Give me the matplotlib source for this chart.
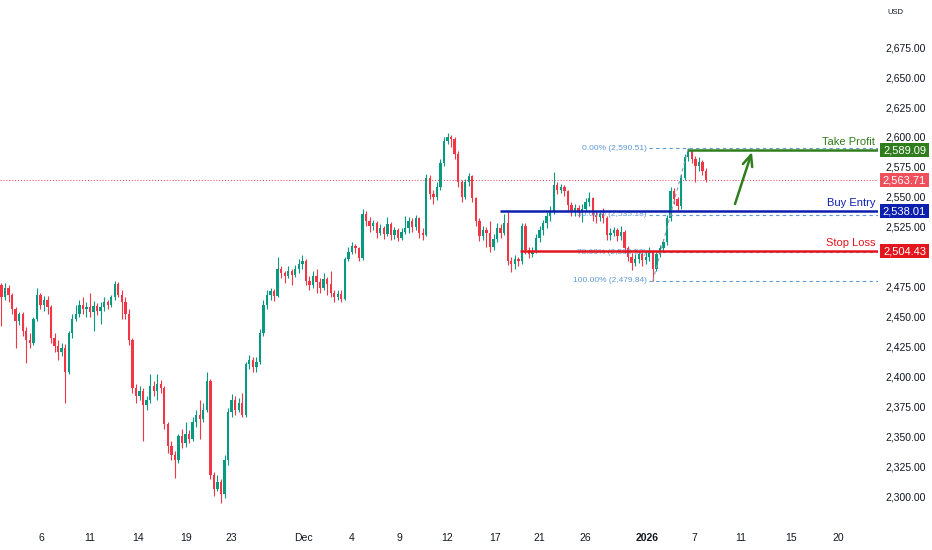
import matplotlib
matplotlib.use('Agg')
from matplotlib import pyplot as plt
from matplotlib import transforms
from matplotlib.patches import Rectangle
import numpy as np

plt.rcParams['font.family'] = ['Liberation Sans', 'DejaVu Sans']

# candle data (4h-ish bars), open of each bar = previous close
first_open = 2476
closes = [2466, 2474, 2468, 2456, 2446, 2452, 2438, 2430, 2428, 2448,
          2468, 2460, 2464, 2458, 2432, 2425, 2420, 2424, 2404, 2436,
          2448, 2452, 2460, 2456, 2458, 2454, 2459, 2455, 2458, 2462,
          2460, 2466, 2477, 2468, 2462, 2452, 2430, 2390, 2384, 2388,
          2376, 2380, 2392, 2388, 2394, 2390, 2360, 2342, 2334, 2330,
          2350, 2344, 2352, 2348, 2362, 2368, 2364, 2372, 2396, 2318,
          2306, 2312, 2302, 2330, 2370, 2380, 2372, 2378, 2368, 2410,
          2414, 2408, 2412, 2436, 2460, 2468, 2471, 2467, 2490, 2486,
          2484, 2488, 2485, 2490, 2494, 2496, 2480, 2476, 2484, 2479,
          2474, 2481, 2477, 2470, 2466, 2469, 2465, 2498, 2504, 2509,
          2507, 2499, 2536, 2530, 2526, 2528, 2520, 2524, 2519, 2527,
          2518, 2522, 2516, 2521, 2524, 2530, 2525, 2532, 2520, 2518,
          2566, 2552, 2550, 2558, 2578, 2597, 2600, 2598, 2586, 2562,
          2550, 2562, 2567, 2549, 2530, 2517, 2522, 2520, 2508, 2515,
          2524, 2520, 2528, 2496, 2494, 2498, 2496, 2526, 2506, 2502,
          2505, 2516, 2522, 2528, 2534, 2538, 2560, 2556, 2558, 2555,
          2543, 2538, 2541, 2537, 2540, 2546, 2549, 2535, 2533, 2536,
          2532, 2518, 2520, 2522, 2517, 2521, 2507, 2500, 2495, 2498,
          2502, 2497, 2500, 2504, 2490, 2502, 2507, 2512, 2532, 2555,
          2548, 2542, 2566, 2583, 2588, 2582, 2576, 2579, 2572, 2563.71]
highs = [2478, 2478, 2476, 2470, 2458, 2454, 2454, 2441, 2436, 2450,
         2474, 2470, 2467, 2467, 2460, 2436, 2430, 2428, 2427, 2438,
         2452, 2460, 2464, 2466, 2462, 2470, 2463, 2461, 2462, 2466,
         2464, 2468, 2480, 2479, 2472, 2466, 2456, 2432, 2394, 2392,
         2390, 2384, 2402, 2396, 2402, 2397, 2392, 2362, 2346, 2338,
         2352, 2356, 2362, 2355, 2366, 2372, 2380, 2378, 2404, 2398,
         2320, 2318, 2314, 2334, 2374, 2385, 2384, 2382, 2386, 2412,
         2418, 2416, 2416, 2440, 2464, 2472, 2474, 2473, 2500, 2492,
         2488, 2492, 2490, 2493, 2498, 2501, 2498, 2484, 2488, 2490,
         2482, 2486, 2483, 2488, 2472, 2472, 2472, 2500, 2508, 2512,
         2511, 2508, 2540, 2538, 2533, 2531, 2530, 2527, 2526, 2533,
         2529, 2525, 2524, 2524, 2534, 2533, 2532, 2535, 2533, 2524,
         2569, 2568, 2556, 2562, 2582, 2600, 2603, 2602, 2600, 2588,
         2564, 2565, 2570, 2568, 2550, 2532, 2526, 2525, 2530, 2519,
         2528, 2527, 2536, 2537, 2500, 2501, 2500, 2528, 2528, 2508,
         2508, 2519, 2526, 2531, 2537, 2542, 2571, 2562, 2561, 2560,
         2556, 2546, 2544, 2543, 2544, 2549, 2554, 2550, 2538, 2539,
         2541, 2534, 2524, 2525, 2524, 2526, 2522, 2509, 2503, 2502,
         2505, 2504, 2505, 2508, 2506, 2505, 2510, 2515, 2535, 2558,
         2557, 2550, 2569, 2586, 2590.51, 2589, 2584, 2583, 2581, 2574]
lows = [2442, 2464, 2462, 2452, 2424, 2443, 2434, 2411, 2424, 2426,
        2446, 2456, 2455, 2452, 2428, 2420, 2414, 2417, 2378, 2402,
        2432, 2446, 2450, 2452, 2450, 2450, 2438, 2451, 2444, 2455,
        2456, 2458, 2464, 2466, 2448, 2448, 2426, 2386, 2378, 2380,
        2346, 2372, 2378, 2384, 2380, 2386, 2356, 2336, 2330, 2315,
        2328, 2340, 2341, 2344, 2346, 2358, 2348, 2362, 2370, 2314,
        2300, 2304, 2294, 2298, 2326, 2366, 2368, 2370, 2366, 2366,
        2406, 2404, 2404, 2410, 2434, 2456, 2464, 2463, 2466, 2482,
        2478, 2482, 2476, 2483, 2486, 2490, 2476, 2472, 2474, 2470,
        2470, 2472, 2468, 2466, 2462, 2464, 2462, 2464, 2496, 2502,
        2503, 2496, 2497, 2526, 2521, 2522, 2516, 2518, 2515, 2517,
        2514, 2515, 2513, 2514, 2519, 2520, 2521, 2522, 2516, 2514,
        2517, 2548, 2544, 2547, 2556, 2576, 2594, 2592, 2582, 2558,
        2546, 2548, 2559, 2546, 2526, 2513, 2514, 2508, 2504, 2506,
        2512, 2516, 2518, 2493, 2487, 2490, 2492, 2494, 2502, 2499,
        2500, 2503, 2512, 2518, 2524, 2530, 2536, 2552, 2553, 2551,
        2538, 2534, 2534, 2533, 2529, 2538, 2542, 2530, 2528, 2530,
        2528, 2514, 2514, 2517, 2513, 2514, 2503, 2496, 2489, 2492,
        2495, 2492, 2494, 2496, 2479.84, 2488, 2500, 2504, 2510, 2530,
        2544, 2538, 2540, 2564, 2580, 2578, 2562, 2572, 2568, 2562]

# levels
take_profit = 2589.09
buy_entry = 2538.01
stop_loss = 2504.43
last_price = 2563.71
fib_high = 2590.51
fib_low = 2479.84
fib_ratios = [0.0, 0.5, 0.786, 1.0]
fib_names = ['0.00%', '50.00%', '78.60%', '100.00%']

# axis labels (2,500 sits under the stop loss tag, so it is not shown)
price_ticks = [2300, 2325, 2350, 2375, 2400, 2425, 2450, 2475,
               2525, 2550, 2575, 2600, 2625, 2650, 2675]
date_pos = [11.4, 24.9, 38.6, 52.2, 64.9, 85.3, 98.8, 112.3, 125.8, 139.3,
            152.0, 165.0, 182.3, 195.8, 208.8, 223.0, 236.5]
date_labels = ['6', '11', '14', '19', '23', 'Dec', '4', '9', '12', '17',
               '21', '26', '2026', '7', '11', '15', '20']

UP = '#089981'
DOWN = '#f23645'
GREEN = '#2f7d1c'
BLUE = '#0c1fae'
RED = '#e3161d'
FIB = '#5f9ad8'
TXT = '#131722'

closes = np.array(closes, dtype=float)
highs = np.array(highs, dtype=float)
lows = np.array(lows, dtype=float)
opens = np.concatenate([[first_open], closes[:-1]])
idx = np.arange(len(closes))

fig = plt.figure(figsize=(9.32, 5.5), dpi=100)
ax = fig.add_axes([0, 28 / 550, 878 / 932, 522 / 550])
for s in ax.spines.values():
  s.set_visible(False)

up = closes >= opens
cols = np.where(up, UP, DOWN)
ax.vlines(idx, lows, highs, colors=cols, linewidth=0.8, zorder=2)
body_lo = np.minimum(opens, closes)
body_h = np.maximum(np.abs(closes - opens), 0.5)
ax.bar(idx, body_h, bottom=body_lo, width=0.66, color=cols, linewidth=0, zorder=3)

x_right = 247.6
ax.set_xlim(-0.42, x_right)
ax.set_ylim(2278.36, 2714.45)

# current price dotted line
ax.axhline(last_price, color=DOWN, linestyle=(0, (1, 2)), linewidth=0.7, zorder=1)

# fib retracement
fib_start = 182.8
for r, name in zip(fib_ratios, fib_names):
  lvl = fib_high - r * (fib_high - fib_low)
  ax.hlines(lvl, fib_start, x_right, colors=FIB, linestyles=(0, (3, 3)), linewidth=0.8, zorder=4)
  ax.text(fib_start - 0.6, lvl, '%s (%s)' % (name, format(lvl, ',.2f')), color=FIB,
          fontsize=6, ha='right', va='center', zorder=4)
ax.plot([184, 194], [fib_low, fib_high], color='#8a9bb0', linestyle=(0, (3, 3)), linewidth=0.8, zorder=4)

# trade levels
levels = [(take_profit, 194.0, GREEN, 'Take Profit'),
          (buy_entry, 140.8, BLUE, 'Buy Entry'),
          (stop_loss, 146.5, RED, 'Stop Loss')]
for price, start, col, name in levels:
  ax.hlines(price, start, x_right, colors=col, linewidth=1.8, zorder=5)
  ax.annotate(name, xy=(0.997, price), xycoords=('axes fraction', 'data'),
              xytext=(0, 2.5), textcoords='offset points', ha='right', va='bottom',
              color=col, fontsize=8, zorder=6)

ax.annotate('', xy=(212.0, 2587.5), xytext=(207.2, 2544),
            arrowprops=dict(arrowstyle='->,head_width=0.35,head_length=0.8',
                            color=GREEN, lw=1.8, shrinkA=0, shrinkB=0))

# price scale
ax.yaxis.tick_right()
ax.set_yticks(price_ticks)
ax.set_yticklabels([format(p, ',.2f') for p in price_ticks])
ax.tick_params(axis='y', length=0, pad=5, labelsize=7.5, labelcolor=TXT)

ax.set_xticks(date_pos)
ax.set_xticklabels(date_labels)
ax.tick_params(axis='x', length=0, pad=8, labelsize=7.5, labelcolor=TXT)
for lab in ax.get_xticklabels():
  if lab.get_text() == '2026':
    lab.set_fontweight('bold')

# coloured price tags on the scale
tr = transforms.blended_transform_factory(ax.transAxes, ax.transData)
px = 1.0 / 878
tags = [(take_profit, GREEN), (last_price, '#f0505c'), (buy_entry, BLUE), (stop_loss, RED)]
for price, col in tags:
  ax.add_patch(Rectangle((1 + 2 * px, price - 5.8), 49 * px, 11.6, transform=tr,
                         facecolor=col, edgecolor='none', clip_on=False, zorder=10))
  ax.text(1 + 26.5 * px, price, format(price, ',.2f'), transform=tr, color='white',
          fontsize=8, ha='center', va='center', clip_on=False, zorder=11)

fig.text(895 / 932, 1 - 12 / 550, 'USD', fontsize=5.5, color=TXT, ha='center', va='center')

plt.savefig('out.png', dpi=100)
